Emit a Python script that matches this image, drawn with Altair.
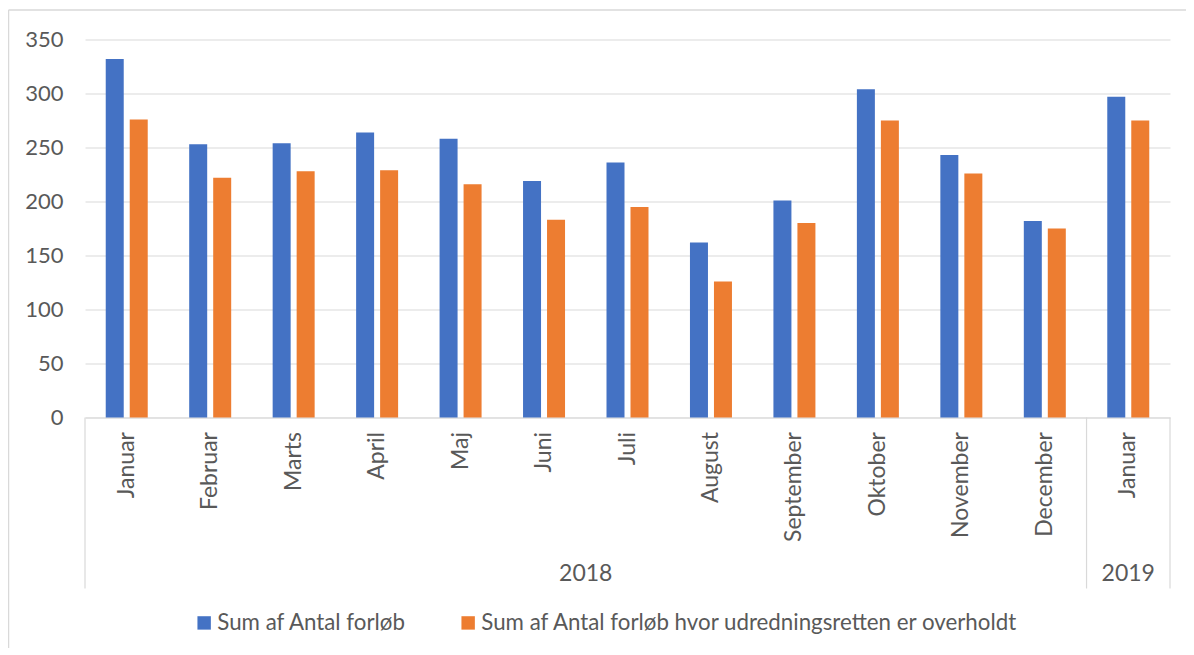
import altair as alt
import pandas as pd

months = ["Januar", "Februar", "Marts", "April", "Maj", "Juni", "Juli",
          "August", "September", "Oktober", "November", "December", "Januar"]
years = ["2018"] * 12 + ["2019"]
series_names = ["Sum af Antal forløb",
                "Sum af Antal forløb hvor udredningsretten er overholdt"]
total = [332, 253, 254, 264, 258, 219, 236, 162, 201, 304, 243, 182, 297]
met = [276, 222, 228, 229, 216, 183, 195, 126, 180, 275, 226, 175, 275]
colors = ["#4472C4", "#ED7D31"]

keys = [f"{y}|{m}" for y, m in zip(years, months)]
rows = []
for k, a, b in zip(keys, total, met):
    rows.append({"key": k, "serie": series_names[0], "value": a})
    rows.append({"key": k, "serie": series_names[1], "value": b})
df = pd.DataFrame(rows)

FONT = "Lato"
FS = 23
TXT = "#595959"
GRID = "#D9D9D9"
W, H = 1085, 378

xenc = alt.X("key:N", scale=alt.Scale(domain=keys, paddingInner=0, paddingOuter=0),
             axis=alt.Axis(title=None, labelAngle=-90, labelPadding=14, ticks=False,
                           domainColor=GRID, labelFont=FONT, labelFontSize=FS,
                           labelColor=TXT, labelExpr="split(datum.value, '|')[1]"))

bars = alt.Chart(df).mark_bar().encode(
    x=xenc,
    xOffset=alt.XOffset("serie:N", sort=series_names,
                        scale=alt.Scale(paddingInner=0.25, paddingOuter=0.864)),
    y=alt.Y("value:Q", scale=alt.Scale(domain=[0, 350], nice=False),
            axis=alt.Axis(title=None, values=list(range(0, 351, 50)), ticks=False,
                          domain=False, gridColor=GRID, labelPadding=22,
                          labelFont=FONT, labelFontSize=22, labelColor=TXT)),
    color=alt.Color("serie:N", sort=series_names,
                    scale=alt.Scale(domain=series_names, range=colors),
                    legend=alt.Legend(title=None, orient="none", direction="horizontal",
                                      legendX=108, legendY=572, symbolType="square",
                                      symbolSize=180, symbolStrokeWidth=0,
                                      labelFont=FONT, labelFontSize=22.3, labelColor=TXT,
                                      labelOffset=2, columnPadding=50, labelLimit=800)),
)

sep_left = pd.DataFrame({"key": ["2018|Januar", "2019|Januar"]})
sep_right = pd.DataFrame({"key": ["2019|Januar"]})

rule_l = alt.Chart(sep_left).mark_rule(color=GRID, strokeWidth=1.2).encode(
    x=alt.X("key:N", bandPosition=0), y=alt.value(H), y2=alt.value(H + 171))
rule_r = alt.Chart(sep_right).mark_rule(color=GRID, strokeWidth=1.2).encode(
    x=alt.X("key:N", bandPosition=1), y=alt.value(H), y2=alt.value(H + 171))

yr18 = alt.Chart(pd.DataFrame({"key": ["2018|Juni"], "year": ["2018"]})).mark_text(
    font=FONT, fontSize=FS, color=TXT, baseline="middle").encode(
    x=alt.X("key:N", bandPosition=1), y=alt.value(534), text="year:N")
yr19 = alt.Chart(pd.DataFrame({"key": ["2019|Januar"], "year": ["2019"]})).mark_text(
    font=FONT, fontSize=FS, color=TXT, baseline="middle").encode(
    x=alt.X("key:N", bandPosition=0.5), y=alt.value(534), text="year:N")

border_top = alt.Chart(pd.DataFrame({"a": [0]})).mark_rule(color=GRID, strokeWidth=1.5).encode(
    x=alt.value(-76.5), x2=alt.value(1110), y=alt.value(-29.5))
border_left = alt.Chart(pd.DataFrame({"a": [0]})).mark_rule(color=GRID, strokeWidth=1.5).encode(
    x=alt.value(-76.5), y=alt.value(-29.5), y2=alt.value(620))

chart = alt.layer(bars, rule_l, rule_r, yr18, yr19, border_top, border_left).properties(
    width=W, height=H,
    autosize=alt.AutoSizeParams(type="none"),
    padding={"left": 77, "top": 31.5, "right": 16, "bottom": 230},
    background="white",
).configure_view(stroke=None)

chart.save("out.html", embed_options={"renderer": "svg", "actions": False})
